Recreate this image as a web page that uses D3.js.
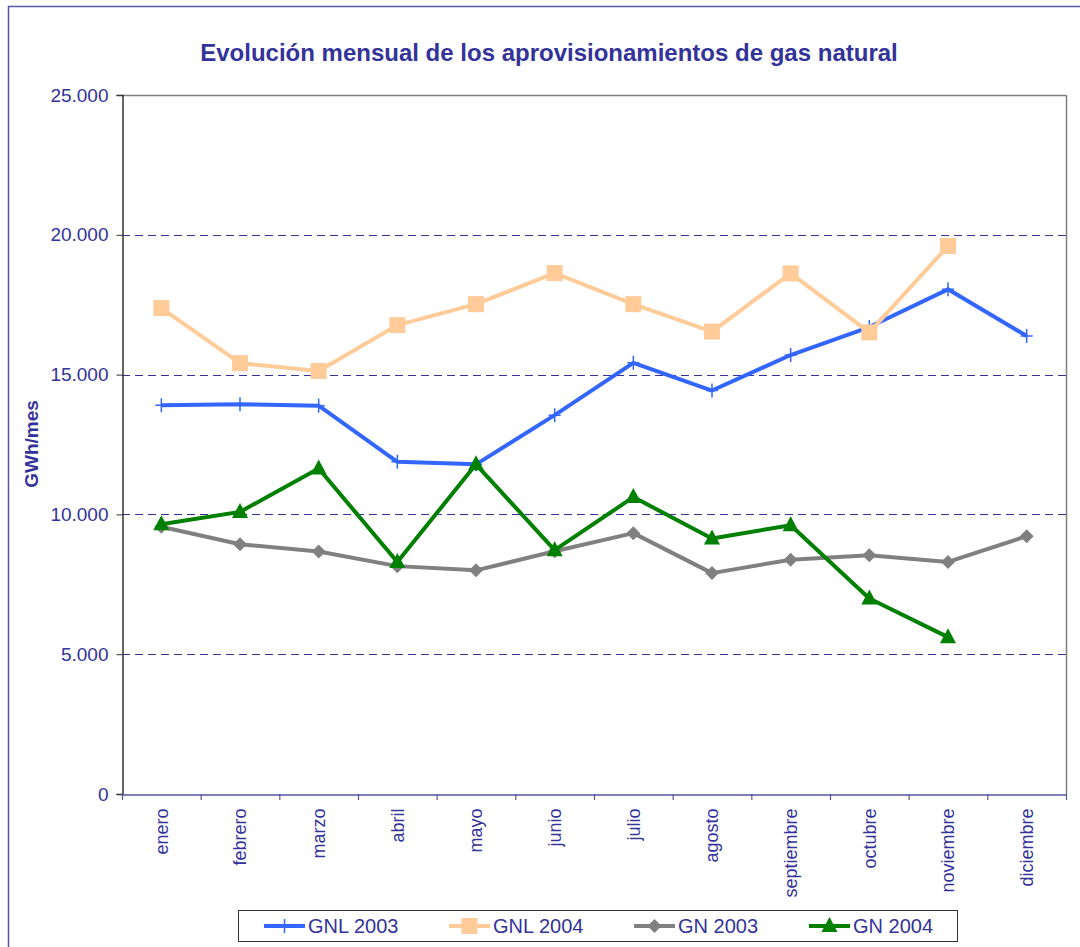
<!DOCTYPE html>
<html>
<head>
<meta charset="utf-8">
<script src="https://cdn.jsdelivr.net/npm/d3@7"></script>
<style>
  html, body { margin: 0; padding: 0; background: #fff; }
  svg { display: block; }
  text { font-family: "Liberation Sans", Arial, sans-serif; }
</style>
</head>
<body>
<svg id="chart" width="1080" height="947"></svg>
<script>
const months = ["enero","febrero","marzo","abril","mayo","junio","julio","agosto","septiembre","octubre","noviembre","diciembre"];
const gnl2003 = [13900, 13940, 13890, 11880, 11790, 13550, 15420, 14430, 15700, 16700, 18050, 16380];
const gnl2004 = [17380, 15410, 15130, 16770, 17520, 18630, 17520, 16540, 18620, 16510, 19600, null];
const gn2003  = [9560, 8930, 8670, 8150, 8000, 8680, 9330, 7900, 8380, 8540, 8300, 9220];
const gn2004  = [9650, 10090, 11640, 8300, 11790, 8720, 10620, 9140, 9610, 6990, 5610, null];
const yTicks = [0, 5000, 10000, 15000, 20000, 25000];
const seriesNames = ["GNL 2003", "GNL 2004", "GN 2003", "GN 2004"];

const textColor = "#333399";
const series = [
  { name: seriesNames[0], values: gnl2003, color: "#3366FF", marker: "plus" },
  { name: seriesNames[1], values: gnl2004, color: "#FFCC99", marker: "square" },
  { name: seriesNames[2], values: gn2003,  color: "#808080", marker: "diamond" },
  { name: seriesNames[3], values: gn2004,  color: "#008000", marker: "triangle" }
];

const svg = d3.select("#chart");
const m = { left: 122, top: 95, right: 1066, bottom: 794 };

// outer frame
svg.append("rect").attr("x", 8.5).attr("y", 6.5).attr("width", 1090).attr("height", 960)
  .attr("fill", "none").attr("stroke", "#5555aa").attr("stroke-width", 1.5);

const x = d3.scaleBand().domain(months).range([m.left, m.right]).paddingInner(0).paddingOuter(0);
const y = d3.scaleLinear().domain([0, 25000]).range([m.bottom, m.top]);

// gridlines
svg.append("g").selectAll("line").data(yTicks.filter(d => d > 0 && d < 25000)).join("line")
  .attr("x1", m.left).attr("x2", m.right)
  .attr("y1", d => Math.round(y(d)) + 0.5).attr("y2", d => Math.round(y(d)) + 0.5)
  .attr("stroke", "#333399").attr("stroke-width", 1).attr("stroke-dasharray", "8,5");

// plot frame top & right
svg.append("line").attr("x1", m.left).attr("x2", m.right).attr("y1", m.top + 0.5).attr("y2", m.top + 0.5)
  .attr("stroke", "#808080").attr("stroke-width", 1.5);
svg.append("line").attr("x1", m.right + 0.5).attr("x2", m.right + 0.5).attr("y1", m.top).attr("y2", m.bottom)
  .attr("stroke", "#808080").attr("stroke-width", 1.5);

// y axis
const yAxis = d3.axisLeft(y).tickValues(yTicks).tickSize(6).tickPadding(8)
  .tickFormat(d => d === 0 ? "0" : d3.format(",")(d).replace(/,/g, "."));
const gy = svg.append("g").attr("transform", `translate(${m.left + 0.5},0)`).call(yAxis);
gy.select(".domain").attr("stroke", "#333333").attr("stroke-width", 1.5);
gy.selectAll(".tick line").attr("stroke", "#333333");
gy.selectAll("text").attr("fill", textColor).attr("font-size", 19);

// x axis
const xAxis = d3.axisBottom(x).tickSize(0).tickFormat(d => d);
const gx = svg.append("g").attr("transform", `translate(0,${m.bottom + 0.5})`).call(xAxis);
gx.select(".domain").attr("stroke", "#5555a0").attr("stroke-width", 1.5);
gx.selectAll(".tick text")
  .attr("fill", textColor).attr("font-size", 18)
  .attr("transform", "rotate(-90)")
  .attr("text-anchor", "end").attr("dy", "0.35em").attr("x", -14).attr("y", 0);
// boundary ticks
const bounds = months.map(mm => x(mm)).concat([m.right]);
svg.append("g").selectAll("line").data(bounds).join("line")
  .attr("x1", d => d + 0.5).attr("x2", d => d + 0.5)
  .attr("y1", m.bottom).attr("y2", m.bottom + 6)
  .attr("stroke", "#5555a0").attr("stroke-width", 1.2);

// title
svg.append("text").attr("x", 549).attr("y", 61).attr("text-anchor", "middle")
  .attr("fill", textColor).attr("font-size", 24).attr("font-weight", "bold")
  .text("Evolución mensual de los aprovisionamientos de gas natural");

// y label
svg.append("text").attr("transform", "translate(38,444) rotate(-90)").attr("text-anchor", "middle")
  .attr("fill", textColor).attr("font-size", 19).attr("font-weight", "bold").text("GWh/mes");

function drawMarker(g, type, color, cx, cy) {
  if (type === "plus") {
    g.append("path").attr("d", `M${cx - 6},${cy}H${cx + 6}M${cx},${cy - 7}V${cy + 7}`)
      .attr("stroke", color).attr("stroke-width", 1.5).attr("fill", "none");
  } else if (type === "square") {
    g.append("rect").attr("x", cx - 8).attr("y", cy - 8).attr("width", 16).attr("height", 16).attr("fill", color);
  } else if (type === "diamond") {
    g.append("path").attr("d", `M${cx},${cy - 7}L${cx + 7},${cy}L${cx},${cy + 7}L${cx - 7},${cy}Z`).attr("fill", color);
  } else if (type === "triangle") {
    g.append("path").attr("d", `M${cx},${cy - 9}L${cx + 8},${cy + 6}L${cx - 8},${cy + 6}Z`).attr("fill", color);
  }
}

const cxOf = mm => x(mm) + x.bandwidth() / 2;
const line = d3.line().defined(d => d.v !== null).x(d => cxOf(d.m)).y(d => y(d.v));

series.forEach(s => {
  const pts = months.map((mm, i) => ({ m: mm, v: s.values[i] }));
  const g = svg.append("g");
  g.append("path").datum(pts).attr("d", line).attr("fill", "none")
    .attr("stroke", s.color).attr("stroke-width", 4).attr("stroke-linejoin", "round");
  pts.filter(p => p.v !== null).forEach(p => drawMarker(g, s.marker, s.color, cxOf(p.m), y(p.v)));
});

// legend
const lg = svg.append("g");
lg.append("rect").attr("x", 238.5).attr("y", 910.5).attr("width", 719).attr("height", 31)
  .attr("fill", "#fff").attr("stroke", "#333333").attr("stroke-width", 1);
const legendX = [264, 449, 634, 809];
series.forEach((s, i) => {
  const lx = legendX[i], ly = 926;
  lg.append("line").attr("x1", lx).attr("x2", lx + 41).attr("y1", ly).attr("y2", ly)
    .attr("stroke", s.color).attr("stroke-width", 4);
  drawMarker(lg, s.marker, s.color, lx + 20.5, ly);
  lg.append("text").attr("x", lx + 44).attr("y", ly).attr("dy", "0.36em")
    .attr("fill", textColor).attr("font-size", 20).text(s.name);
});
</script>
</body>
</html>
